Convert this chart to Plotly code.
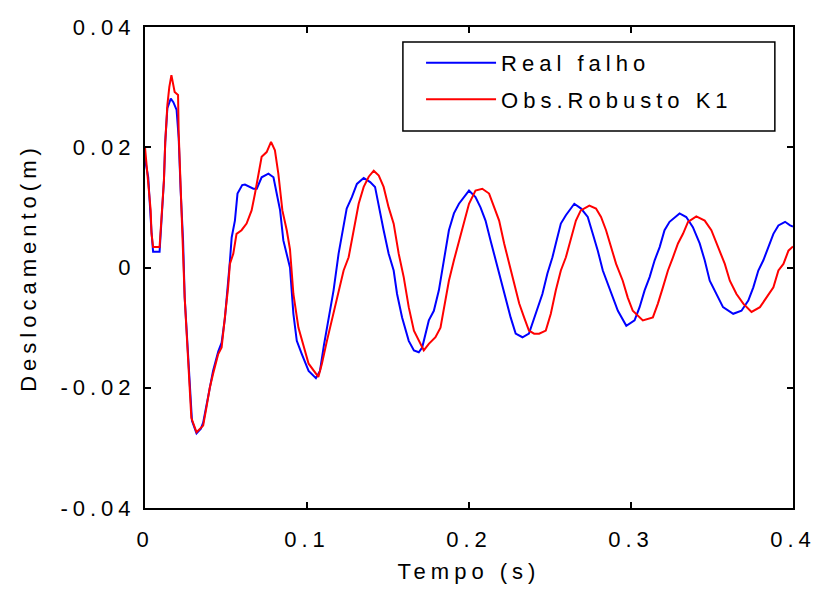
import plotly.graph_objects as go

# Real falho (blue)
t_real = [0.000, 0.002, 0.004, 0.005, 0.009, 0.010, 0.0117, 0.0125, 0.0138, 0.0159, 0.0175, 0.0195,
          0.0208, 0.022, 0.0235, 0.0245, 0.0262, 0.0276, 0.0290, 0.0318, 0.0345, 0.0359, 0.0379, 0.0400,
          0.0420, 0.0452, 0.0473, 0.0493, 0.0513, 0.0524, 0.0535, 0.0555, 0.0571, 0.0600, 0.0617, 0.0669,
          0.0690, 0.0720, 0.0762, 0.0793, 0.0813, 0.0834, 0.0854, 0.0875, 0.0895, 0.0916, 0.0937, 0.0968,
          0.1010, 0.1055, 0.1080, 0.1104, 0.1133, 0.1164, 0.1195, 0.1226, 0.1245, 0.1277, 0.1308, 0.1350,
          0.1390, 0.1420, 0.1443, 0.1473, 0.1504, 0.1535, 0.1556, 0.1587, 0.1628, 0.1660, 0.1690, 0.1711,
          0.1752, 0.1783, 0.1814, 0.1845, 0.1876, 0.1907, 0.1938, 0.2000, 0.2040, 0.2071, 0.2102, 0.2133,
          0.2164, 0.2195, 0.2226, 0.2257, 0.2288, 0.2330, 0.2370, 0.2412, 0.2453, 0.2484, 0.2515, 0.2536,
          0.2567, 0.2598, 0.2650, 0.2692, 0.2733, 0.2764, 0.2795, 0.2826, 0.2857, 0.2888, 0.2919, 0.2971,
          0.3022, 0.3053, 0.3084, 0.3115, 0.3146, 0.3177, 0.3207, 0.3238, 0.3300, 0.3341, 0.3382, 0.3424,
          0.3455, 0.3486, 0.3527, 0.3568, 0.3631, 0.3682, 0.3724, 0.3755, 0.3786, 0.3817, 0.3848, 0.3879,
          0.3910, 0.3951, 0.3982, 0.4000]
y_real = [0.0180, 0.0150, 0.0060, 0.0026, 0.0026, 0.0070, 0.0145, 0.0209, 0.0265, 0.0281, 0.0275, 0.0262,
          0.0215, 0.0128, 0.0045, -0.0050, -0.0133, -0.0200, -0.0255, -0.0276, -0.0268, -0.0258, -0.0228, -0.0195,
          -0.0172, -0.0140, -0.0125, -0.0085, -0.0030, 0.0010, 0.0050, 0.0078, 0.0123, 0.0137, 0.0138, 0.0131,
          0.0131, 0.0150, 0.0156, 0.0150, 0.0123, 0.0095, 0.0045, 0.0023, 0.0000, -0.0077, -0.0122, -0.0144,
          -0.0172, -0.0184, -0.0172, -0.0130, -0.0088, -0.0038, 0.0023, 0.0073, 0.0098, 0.0117, 0.0139, 0.0149,
          0.0142, 0.0134, 0.0100, 0.0062, 0.0023, -0.0005, -0.0044, -0.0083, -0.0122, -0.0138, -0.0141, -0.0133,
          -0.0088, -0.0072, -0.0038, 0.0012, 0.0062, 0.0090, 0.0106, 0.0128, 0.0117, 0.0100, 0.0078, 0.0045,
          0.0012, -0.0016, -0.0050, -0.0083, -0.0110, -0.0116, -0.0110, -0.0077, -0.0044, -0.0010, 0.0017, 0.0040,
          0.0073, 0.0087, 0.0106, 0.0098, 0.0084, 0.0056, 0.0028, -0.0005, -0.0027, -0.0050, -0.0072, -0.0097,
          -0.0088, -0.0066, -0.0038, -0.0016, 0.0012, 0.0034, 0.0062, 0.0076, 0.0090, 0.0084, 0.0067, 0.0040,
          0.0012, -0.0022, -0.0044, -0.0066, -0.0077, -0.0072, -0.0055, -0.0033, -0.0005, 0.0012, 0.0034, 0.0056,
          0.0070, 0.0076, 0.0070, 0.0068]

# Obs.Robusto K1 (red)
t_obs = [0.000, 0.0019, 0.0035, 0.0040, 0.0050, 0.0090, 0.0101, 0.0117, 0.0125, 0.0138, 0.0150, 0.0163,
         0.0183, 0.0204, 0.0208, 0.0220, 0.0235, 0.0245, 0.0262, 0.0276, 0.0286, 0.0318, 0.0359, 0.0379,
         0.0400, 0.0420, 0.0452, 0.0473, 0.0493, 0.0513, 0.0524, 0.0545, 0.0565, 0.0596, 0.0627, 0.0658,
         0.0679, 0.0700, 0.0720, 0.0751, 0.0778, 0.0802, 0.0823, 0.0848, 0.0875, 0.0895, 0.0916, 0.0947,
         0.0988, 0.1010, 0.1070, 0.1092, 0.1123, 0.1153, 0.1195, 0.1226, 0.1257, 0.1288, 0.1319, 0.1350,
         0.1381, 0.1412, 0.1443, 0.1473, 0.1504, 0.1535, 0.1566, 0.1597, 0.1628, 0.1660, 0.1690, 0.1721,
         0.1752, 0.1793, 0.1824, 0.1845, 0.1876, 0.1907, 0.1938, 0.1969, 0.2000, 0.2040, 0.2082, 0.2124,
         0.2155, 0.2186, 0.2217, 0.2248, 0.2279, 0.2310, 0.2340, 0.2370, 0.2402, 0.2433, 0.2474, 0.2505,
         0.2536, 0.2567, 0.2598, 0.2629, 0.2660, 0.2690, 0.2743, 0.2784, 0.2815, 0.2846, 0.2877, 0.2908,
         0.2949, 0.2980, 0.3011, 0.3073, 0.3135, 0.3166, 0.3197, 0.3228, 0.3259, 0.3290, 0.3321, 0.3352,
         0.3403, 0.3455, 0.3496, 0.3537, 0.3579, 0.3610, 0.3651, 0.3693, 0.3744, 0.3796, 0.3837, 0.3879,
         0.3910, 0.3941, 0.3972, 0.4000]
y_obs = [0.0200, 0.0145, 0.0095, 0.0057, 0.0034, 0.0034, 0.0084, 0.0145, 0.0209, 0.0270, 0.0300, 0.0320,
         0.0292, 0.0287, 0.0223, 0.0128, 0.0045, -0.0050, -0.0133, -0.0200, -0.0250, -0.0274, -0.0263, -0.0233,
         -0.0200, -0.0177, -0.0144, -0.0133, -0.0088, -0.0033, 0.0006, 0.0023, 0.0056, 0.0062, 0.0073, 0.0095,
         0.0123, 0.0156, 0.0184, 0.0192, 0.0209, 0.0195, 0.0156, 0.0095, 0.0062, 0.0030, -0.0044, -0.0100,
         -0.0138, -0.0160, -0.0182, -0.0160, -0.0122, -0.0088, -0.0044, -0.0005, 0.0017, 0.0062, 0.0106, 0.0134,
         0.0151, 0.0161, 0.0153, 0.0134, 0.0100, 0.0073, 0.0023, -0.0016, -0.0066, -0.0105, -0.0122, -0.0138,
         -0.0127, -0.0116, -0.0100, -0.0066, -0.0022, 0.0012, 0.0045, 0.0078, 0.0106, 0.0128, 0.0131, 0.0123,
         0.0100, 0.0078, 0.0040, 0.0006, -0.0027, -0.0060, -0.0083, -0.0105, -0.0110, -0.0110, -0.0105, -0.0077,
         -0.0038, -0.0005, 0.0017, 0.0048, 0.0078, 0.0095, 0.0103, 0.0098, 0.0084, 0.0062, 0.0034, 0.0006,
         -0.0022, -0.0050, -0.0072, -0.0088, -0.0083, -0.0060, -0.0033, -0.0005, 0.0017, 0.0040, 0.0056, 0.0076,
         0.0085, 0.0078, 0.0062, 0.0034, 0.0006, -0.0022, -0.0044, -0.0060, -0.0074, -0.0066, -0.0050, -0.0033,
         -0.0005, 0.0006, 0.0028, 0.0035]

x_ticks = [0, 0.1, 0.2, 0.3, 0.4]
x_tick_labels = ["0", "0.1", "0.2", "0.3", "0.4"]
y_ticks = [-0.04, -0.02, 0, 0.02, 0.04]
y_tick_labels = ["-0.04", "-0.02", "0", "0.02", "0.04"]

FONT = "Liberation Sans, Arial, sans-serif"
FS = 22

fig = go.Figure()
fig.add_trace(go.Scatter(x=t_real, y=y_real, mode="lines", name="Real falho", legendgroup="a",
                         line=dict(color="#0000FF", width=2)))
fig.add_trace(go.Scatter(x=t_obs, y=y_obs, mode="lines", name="Obs.Robusto K1", legendgroup="b",
                         line=dict(color="#FF0000", width=2)))

axis_common = dict(showline=True, linecolor="black", linewidth=2, mirror="ticks",
                   ticks="inside", ticklen=6, tickwidth=1.5, tickcolor="black",
                   showgrid=False, zeroline=False, automargin=False,
                   ticklabeloverflow="allow",
                   tickfont=dict(family=FONT, size=FS, color="black"))

fig.update_layout(
    width=815, height=591,
    margin=dict(l=145, r=22, t=27, b=83, autoexpand=False),
    paper_bgcolor="white", plot_bgcolor="white",
    font=dict(family=FONT, size=FS, color="black"),
    xaxis=dict(range=[0, 0.4], tickvals=x_ticks, ticktext=x_tick_labels,
               title=dict(text="Tempo (s)", standoff=12, font=dict(family=FONT, size=FS)),
               ticklabelstandoff=11, **axis_common),
    yaxis=dict(range=[-0.04, 0.04], tickvals=y_ticks, ticktext=y_tick_labels,
               title=dict(text="Deslocamento(m)", standoff=18, font=dict(family=FONT, size=FS)),
               ticklabelstandoff=3, **axis_common),
    legend=dict(x=0.426, y=0.969, xanchor="left", yanchor="top",
                borderwidth=0, bgcolor="rgba(0,0,0,0)",
                font=dict(family=FONT, size=FS, color="black"),
                itemwidth=70, tracegroupgap=5),
    showlegend=True,
    # legend frame
    shapes=[dict(type="rect", xref="paper", yref="paper", x0=0.398, x1=0.972, y0=0.784, y1=0.969,
                 line=dict(color="black", width=1.5), fillcolor="white", layer="above")],
)

# Widen character spacing like the reference's bitmap font, then redraw so
# plotly re-measures all texts (slightly different size avoids its bbox cache).
post = """
document.body.style.margin='0';
var st=document.createElement('style');
st.innerHTML='svg text{letter-spacing:5px !important;}';
document.head.appendChild(st);
var gd=document.getElementById('{plot_id}');
var L=JSON.parse(JSON.stringify(gd.layout));
var D=JSON.parse(JSON.stringify(gd.data));
var fs=22.02;
L.font.size=fs; L.legend.font.size=fs;
['xaxis','yaxis'].forEach(function(a){L[a].tickfont.size=fs; L[a].title.font.size=fs;});
Plotly.purge(gd);
Plotly.newPlot(gd, D, L, {displayModeBar:false});
"""

fig.write_html("out.html", post_script=post, config={"displayModeBar": False})
